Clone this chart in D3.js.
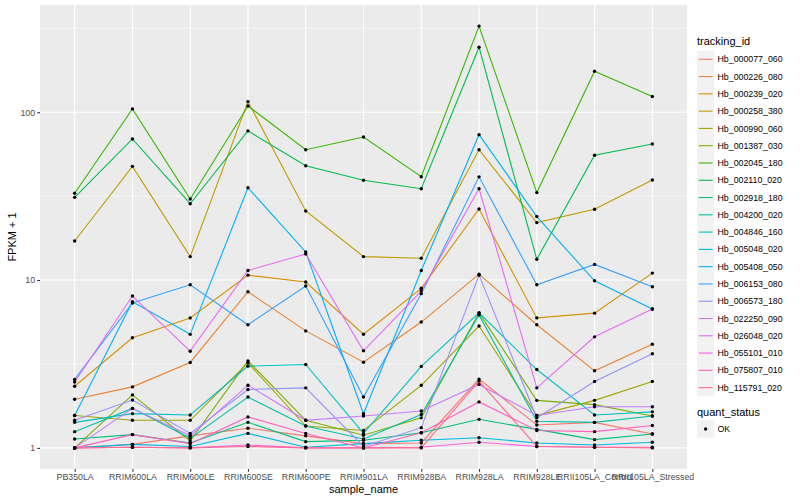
<!DOCTYPE html>
<html><head><meta charset="utf-8">
<script src="https://cdn.jsdelivr.net/npm/d3@7"></script>
<style>body{margin:0;background:#fff}svg{display:block}text{font-family:"Liberation Sans",Arial,Helvetica,sans-serif}</style>
</head><body><svg id="c" width="800" height="500"></svg>
<script>
const categories = ["PB350LA","RRIM600LA","RRIM600LE","RRIM600SE","RRIM600PE","RRIM901LA","RRIM928BA","RRIM928LA","RRIM928LE","RRII105LA_Control","RRII105LA_Stressed"];
const trackingIds = ["Hb_000077_060","Hb_000226_080","Hb_000239_020","Hb_000258_380","Hb_000990_060","Hb_001387_030","Hb_002045_180","Hb_002110_020","Hb_002918_180","Hb_004200_020","Hb_004846_160","Hb_005048_020","Hb_005408_050","Hb_006153_080","Hb_006573_180","Hb_022250_090","Hb_026048_020","Hb_055101_010","Hb_075807_010","Hb_115791_020"];
const palette = ["#F8766D","#EA8331","#D89000","#C09B00","#A3A500","#7CAE00","#39B600","#00BB4E","#00BF7D","#00C1A3","#00BFC4","#00BAE0","#00B0F6","#35A2FF","#9590FF","#C77CFF","#E76BF3","#FA62DB","#FF62BC","#FF6C91"];

const Hb_000077_060 = [1.0, 1.05, 1.18, 1.31, 1.18, 1.06, 1.07, 2.57, 1.37, 1.42, 1.21];
const Hb_000226_080 = [1.95, 2.31, 3.23, 8.52, 4.98, 3.24, 5.62, 10.85, 5.42, 2.88, 4.15];
const Hb_000239_020 = [2.33, 4.53, 5.95, 10.7, 9.73, 4.76, 8.93, 26.5, 5.95, 6.35, 11.0];
const Hb_000258_380 = [17.1, 47.6, 13.8, 115.7, 25.8, 13.8, 13.5, 59.8, 22.0, 26.4, 39.5];
const Hb_000990_060 = [1.56, 1.46, 1.46, 3.21, 1.35, 1.27, 2.36, 5.32, 1.56, 1.92, 2.49];
const Hb_001387_030 = [1.0, 2.07, 1.10, 3.30, 1.46, 1.19, 1.51, 6.38, 1.92, 1.81, 1.55];
const Hb_002045_180 = [32.9, 104.7, 30.4, 109, 59.8, 71.2, 41.3, 326, 33.2, 175.5, 124];
const Hb_002110_020 = [31.1, 69.3, 28.5, 77.4, 48.0, 39.3, 35.0, 244, 13.3, 55.4, 64.7];
const Hb_002918_180 = [1.13, 1.20, 1.07, 1.42, 1.09, 1.11, 1.23, 1.48, 1.29, 1.12, 1.21];
const Hb_004200_020 = [1.25, 1.72, 1.14, 2.01, 1.35, 1.13, 1.58, 6.2, 1.44, 1.42, 1.55];
const Hb_004846_160 = [1.42, 1.60, 1.57, 3.07, 3.14, 1.22, 3.06, 6.38, 2.93, 1.57, 1.64];
const Hb_005048_020 = [1.0, 1.05, 1.02, 1.22, 1.01, 1.06, 1.11, 1.15, 1.07, 1.04, 1.08];
const Hb_005408_050 = [1.56, 7.43, 4.75, 35.5, 14.7, 1.60, 11.4, 73.5, 23.9, 9.9, 6.72];
const Hb_006153_080 = [2.56, 7.3, 9.37, 5.42, 9.22, 2.01, 8.3, 41.2, 9.37, 12.4, 9.12];
const Hb_006573_180 = [1.46, 1.93, 1.22, 2.23, 2.28, 1.02, 1.32, 10.7, 1.51, 2.49, 3.64];
const Hb_022250_090 = [1.0, 1.72, 1.18, 2.36, 1.46, 1.55, 1.66, 2.39, 1.56, 1.76, 1.76];
const Hb_026048_020 = [2.47, 8.03, 3.77, 11.4, 14.3, 3.79, 8.6, 35.0, 2.28, 4.59, 6.72];
const Hb_055101_010 = [1.0, 1.01, 1.0, 1.04, 1.0, 1.0, 1.01, 1.08, 1.02, 1.01, 1.01];
const Hb_075807_010 = [1.0, 1.20, 1.06, 1.53, 1.22, 1.0, 1.23, 1.88, 1.27, 1.25, 1.36];
const Hb_115791_020 = [1.0, 1.01, 1.0, 1.02, 1.0, 1.0, 1.0, 2.50, 1.02, 1.01, 1.0];
const seriesValues = [Hb_000077_060,Hb_000226_080,Hb_000239_020,Hb_000258_380,Hb_000990_060,Hb_001387_030,Hb_002045_180,Hb_002110_020,Hb_002918_180,Hb_004200_020,Hb_004846_160,Hb_005048_020,Hb_005408_050,Hb_006153_080,Hb_006573_180,Hb_022250_090,Hb_026048_020,Hb_055101_010,Hb_075807_010,Hb_115791_020];
const yTicks = [1, 10, 100];
const yMinor = [Math.sqrt(10), Math.sqrt(1000), Math.sqrt(100000)];

const series = trackingIds.map((id,i)=>({id, color: palette[i], values: seriesValues[i].map((v,j)=>({cat: categories[j], v}))}));
const svg = d3.select("#c");
const P = {l:40, r:687, t:5, b:469};

const x = d3.scalePoint().domain(categories).range([P.l, P.r]).padding(0.6);
const all = seriesValues.flat();
const lo = Math.log10(d3.min(all)), hi = Math.log10(d3.max(all));
const pad = 0.05*(hi-lo);
const y = d3.scaleLog().domain([Math.pow(10, lo-pad), Math.pow(10, hi+pad)]).range([P.b, P.t]);

svg.append("rect").attr("x",P.l).attr("y",P.t).attr("width",P.r-P.l).attr("height",P.b-P.t).attr("fill","#EBEBEB");
const g = svg.append("g");
yMinor.filter(v=>v>=y.domain()[0]&&v<=y.domain()[1]).forEach(v=>{
  g.append("line").attr("x1",P.l).attr("x2",P.r).attr("y1",y(v)).attr("y2",y(v)).attr("stroke","#fff").attr("stroke-width",0.55);
});
yTicks.forEach(v=>{
  g.append("line").attr("x1",P.l).attr("x2",P.r).attr("y1",y(v)).attr("y2",y(v)).attr("stroke","#fff").attr("stroke-width",1.1);
});
categories.forEach(c=>{
  g.append("line").attr("x1",x(c)).attr("x2",x(c)).attr("y1",P.t).attr("y2",P.b).attr("stroke","#fff").attr("stroke-width",1.1);
});

const line = d3.line().x(d=>x(d.cat)).y(d=>y(d.v));
svg.append("g").selectAll("path").data(series).join("path")
  .attr("d", d=>line(d.values)).attr("fill","none").attr("stroke", d=>d.color).attr("stroke-width",1.1);
svg.append("g").selectAll("g").data(series).join("g").selectAll("circle").data(d=>d.values).join("circle")
  .attr("cx", d=>x(d.cat)).attr("cy", d=>y(d.v)).attr("r",1.7).attr("fill","#000");

// axes
const yAxis = d3.axisLeft(y).tickValues(yTicks).tickFormat(d3.format("d")).tickSize(2.75).tickPadding(2.2);
const ya = svg.append("g").attr("transform",`translate(${P.l},0)`).call(yAxis);
const xAxis = d3.axisBottom(x).tickSize(2.75).tickPadding(2.2);
const xa = svg.append("g").attr("transform",`translate(0,${P.b})`).call(xAxis);
[ya,xa].forEach(a=>{
  a.select(".domain").remove();
  a.selectAll(".tick line").attr("stroke","#333").attr("stroke-width",1.1);
  a.selectAll(".tick text").attr("fill","#4D4D4D").style("font-size","8.8px").style("font-family",'"Liberation Sans",Arial,sans-serif');
});
svg.append("text").attr("x",(P.l+P.r)/2).attr("y",493).attr("text-anchor","middle").style("font-size","11px").text("sample_name");
svg.append("text").attr("transform",`translate(16,${(P.t+P.b)/2}) rotate(-90)`).attr("text-anchor","middle").style("font-size","11px").text("FPKM + 1");

// legend
const L = svg.append("g");
L.append("text").attr("x",697).attr("y",44.5).style("font-size","11px").text("tracking_id");
series.forEach((s,i)=>{
  const cy = 59.3 + i*17.28;
  L.append("rect").attr("x",697).attr("y",cy-8.64).attr("width",17.28).attr("height",17.28).attr("fill","#F2F2F2");
  L.append("line").attr("x1",698.7).attr("x2",712.6).attr("y1",cy).attr("y2",cy).attr("stroke",s.color).attr("stroke-width",1.1);
  L.append("text").attr("x",717.5).attr("y",cy+3.1).style("font-size","8.8px").attr("fill","#000").text(s.id);
});
L.append("text").attr("x",697).attr("y",416).style("font-size","11px").text("quant_status");
L.append("rect").attr("x",697).attr("y",429-8.64).attr("width",17.28).attr("height",17.28).attr("fill","#F2F2F2");
L.append("circle").attr("cx",705.64).attr("cy",429).attr("r",1.7).attr("fill","#000");
L.append("text").attr("x",717.5).attr("y",432.1).style("font-size","8.8px").text("OK");
</script></body></html>
